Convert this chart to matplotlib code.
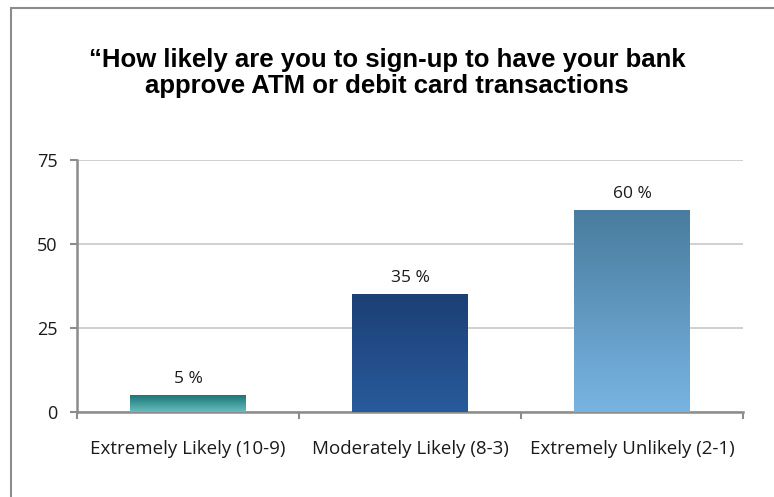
import matplotlib.pyplot as plt
import numpy as np
from matplotlib.colors import LinearSegmentedColormap
from matplotlib.patches import Rectangle

# Data
categories = ["Extremely Likely (10-9)", "Moderately Likely (8-3)", "Extremely Unlikely (2-1)"]
values = [5, 35, 60]
labels = ["5 %", "35 %", "60 %"]
yticks = [0, 25, 50, 75]
title = "\u201cHow likely are you to sign-up to have your bank\napprove ATM or debit card transactions"

# gradient colours (top, bottom) per bar
grad_colors = [("#1b7676", "#68bdbd"), ("#1c3f75", "#285b9c"), ("#497c9e", "#78b4e2")]

body_font = ["Open Sans", "DejaVu Sans"]

fig = plt.figure(figsize=(7.74, 4.97), dpi=100)
# outer chart border (only left and top visible)
fig.patches.append(Rectangle((11 / 774, -0.01), 1.0, 1 - 8 / 497 + 0.01, transform=fig.transFigure,
                             fill=False, edgecolor="#8c8c8c", linewidth=1.5))

ax = fig.add_axes([77 / 774, 1 - 412 / 497, (743 - 77) / 774, (412 - 160) / 497])

x = np.arange(len(categories))
bars = ax.bar(x, values, width=0.52, color="none", zorder=3)
for b, (top, bot) in zip(bars, grad_colors):
    cmap = LinearSegmentedColormap.from_list("g", [bot, top])
    grad = np.linspace(0, 1, 256).reshape(-1, 1)
    x0, y0 = b.get_x(), b.get_y()
    im = ax.imshow(grad, cmap=cmap, origin="lower", aspect="auto",
                   extent=[x0, x0 + b.get_width(), y0, y0 + b.get_height()], zorder=3)
    im.set_clip_path(b)

for xi, v, lab in zip(x, values, labels):
    ax.annotate(lab, (xi, v), xytext=(0, 6), textcoords="offset points",
                ha="center", va="bottom", fontsize=12.5, family=body_font, color="#1a1a1a")

ax.set_xlim(-0.5, 2.5)
ax.set_ylim(0, 75)
ax.set_yticks(yticks)
ax.set_yticklabels([str(t) for t in yticks], fontsize=13, family=body_font, color="#1a1a1a")
ax.yaxis.grid(True, color="#c8c8c8", linewidth=1.2, zorder=0)
ax.set_axisbelow(True)

ax.set_xticks([-0.5, 0.5, 1.5, 2.5])
ax.set_xticklabels([])
ax.set_xticks(x, minor=True)
ax.set_xticklabels(categories, minor=True, fontsize=13.5, family=body_font, color="#1a1a1a")
ax.tick_params(axis="x", which="minor", length=0, pad=20)
ax.tick_params(axis="x", which="major", length=5, color="#8c8c8c", width=1.5)
ax.tick_params(axis="y", length=5, color="#8c8c8c", width=1.5, pad=9)

for s in ["top", "right"]:
    ax.spines[s].set_visible(False)
for s in ["left", "bottom"]:
    ax.spines[s].set_color("#8c8c8c")
    ax.spines[s].set_linewidth(1.8)

fig.text(0.5, 1 - 73 / 497, title, ha="center", va="center", fontsize=18.5, fontweight="bold",
         family=["Liberation Sans", "DejaVu Sans"], linespacing=1.1)

fig.savefig("out.png", dpi=100)
